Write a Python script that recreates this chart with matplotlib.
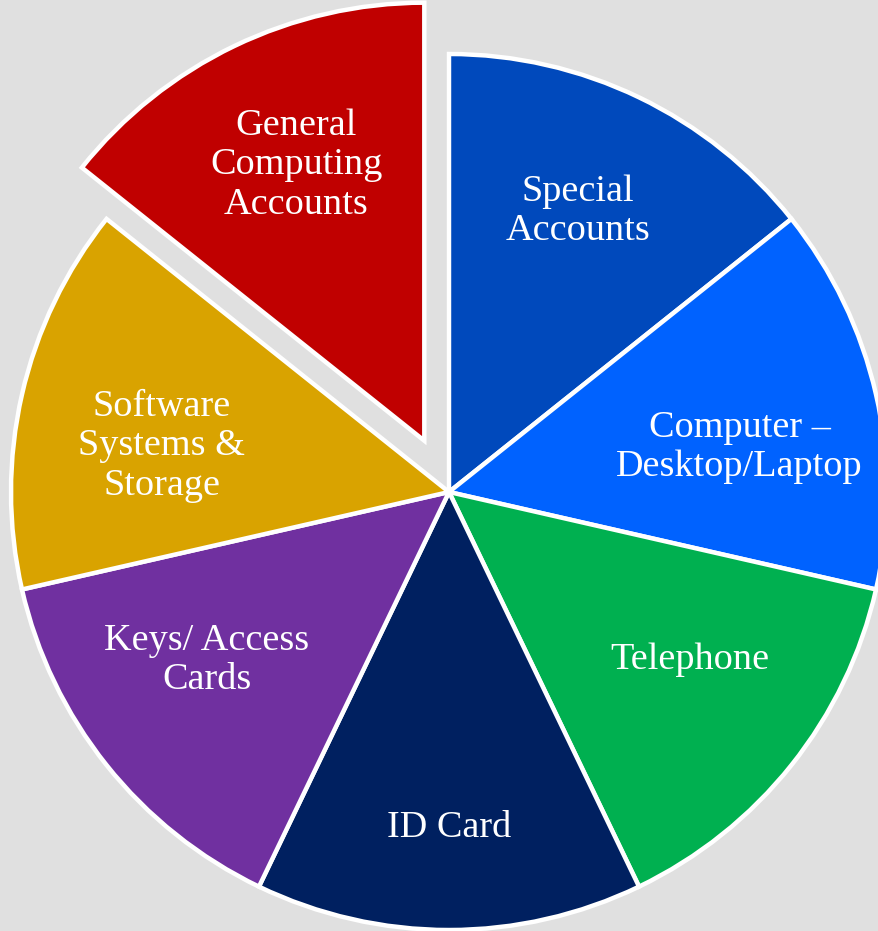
import matplotlib
matplotlib.use("Agg")
import matplotlib.pyplot as plt
import numpy as np

categories = ["Special\nAccounts", "Computer –\nDesktop/Laptop", "Telephone", "ID Card",
              "Keys/ Access\nCards", "Software\nSystems &\nStorage", "General\nComputing\nAccounts"]
values = [1, 1, 1, 1, 1, 1, 1]
colors = ["#0049BC", "#0062FF", "#00B050", "#002060", "#7030A0", "#D9A300", "#C00000"]
explode = [0, 0, 0, 0, 0, 0, 0.13]
label_dist = [0.705, 0.671, 0.671, 0.767, 0.674, 0.664, 0.694]
label_angle_offset = [1.0, -4.06, 3.7, 0.0, -3.77, 3.8, -0.8]

BG = "#E0E0E0"
fig = plt.figure(figsize=(8.79, 9.31), dpi=100, facecolor=BG)
ax = fig.add_axes([0, 0, 1, 1])
ax.set_facecolor(BG)

wedges, _ = ax.pie(values, colors=colors, explode=explode, startangle=90, counterclock=False,
                   radius=1.0, wedgeprops=dict(edgecolor="white", linewidth=3.2))

for w, lab, d, off in zip(wedges, categories, label_dist, label_angle_offset):
    ang = np.deg2rad((w.theta1 + w.theta2) / 2 + off)
    cx, cy = w.center
    ax.text(cx + d * np.cos(ang), cy + d * np.sin(ang), lab, ha="center", va="center",
            color="white", fontsize=27.5, family=["Liberation Serif", "DejaVu Serif"],
            linespacing=1.18)

scale = 438.0
ax.set_xlim(-449 / scale, 430 / scale)
ax.set_ylim(-439 / scale, 492 / scale)
ax.set_aspect("equal", adjustable="box")
ax.axis("off")

fig.savefig("out.png", dpi=100, facecolor=BG)
